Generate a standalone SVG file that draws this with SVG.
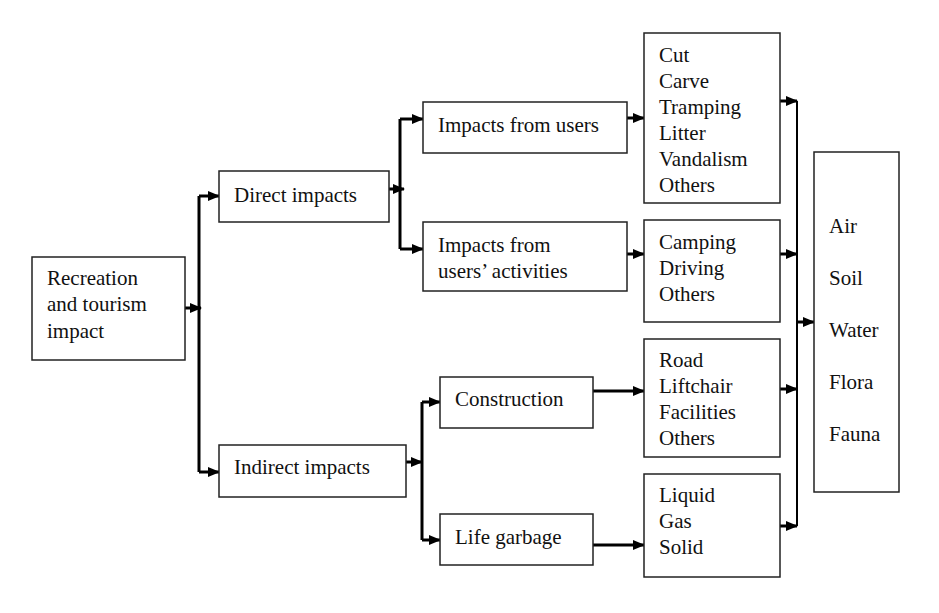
<svg xmlns="http://www.w3.org/2000/svg" width="939" height="613" viewBox="0 0 939 613">
<defs>
<marker id="ah" markerWidth="12" markerHeight="10" refX="11" refY="5" orient="auto" markerUnits="userSpaceOnUse"><path d="M0,0 L12,5 L0,10 Z" fill="#000"/></marker>
</defs>
<style>
rect{fill:#fff;stroke:#222;stroke-width:1.5}
text{font-family:"Liberation Serif",Tinos,"Times New Roman",Times,"DejaVu Serif",serif;font-size:21px;fill:#111}
.c{fill:none;stroke:#000;stroke-width:3}
.t{fill:none;stroke:#000;stroke-width:2}
</style>
<rect x="0" y="0" width="939" height="613" style="stroke:none"/>
<g id="connectors">
<path class="c" d="M185,308 H201" marker-end="url(#ah)"/>
<path class="c" d="M199,196 V472"/>
<path class="c" d="M199,196 H219" marker-end="url(#ah)"/>
<path class="c" d="M199,472 H219" marker-end="url(#ah)"/>
<path class="c" d="M389,189 H404" marker-end="url(#ah)"/>
<path class="c" d="M400,119 V249"/>
<path class="c" d="M400,119 H423" marker-end="url(#ah)"/>
<path class="c" d="M400,249 H423" marker-end="url(#ah)"/>
<path class="c" d="M406,462 H422" marker-end="url(#ah)"/>
<path class="c" d="M422,402 V540"/>
<path class="c" d="M422,402 H440" marker-end="url(#ah)"/>
<path class="c" d="M422,540 H440" marker-end="url(#ah)"/>
<path class="c" d="M627,118 H644" marker-end="url(#ah)"/>
<path class="c" d="M627,254 H644" marker-end="url(#ah)"/>
<path class="c" d="M593,391 H644" marker-end="url(#ah)"/>
<path class="c" d="M593,545 H644" marker-end="url(#ah)"/>
<path class="t" d="M797,101 V526"/>
<path class="c" d="M780,101 H797" marker-end="url(#ah)"/>
<path class="c" d="M780,254 H797" marker-end="url(#ah)"/>
<path class="c" d="M780,389 H797" marker-end="url(#ah)"/>
<path class="c" d="M780,526 H797" marker-end="url(#ah)"/>
<path class="c" d="M797,322 H814" marker-end="url(#ah)"/>
</g>
<g id="root"><rect x="32" y="257" width="153" height="103"/><text x="47" y="285">Recreation</text><text x="47" y="311">and tourism</text><text x="47" y="338">impact</text></g>
<g id="direct"><rect x="219" y="171" width="170" height="51"/><text x="234" y="202">Direct impacts</text></g>
<g id="indirect"><rect x="219" y="445" width="187" height="52"/><text x="234" y="474">Indirect impacts</text></g>
<g id="users"><rect x="423" y="102" width="204" height="51"/><text x="438" y="132">Impacts from users</text></g>
<g id="activities"><rect x="423" y="222" width="204" height="69"/><text x="438" y="252">Impacts from</text><text x="438" y="278">users’ activities</text></g>
<g id="construction"><rect x="440" y="377" width="153" height="51"/><text x="455" y="406">Construction</text></g>
<g id="garbage"><rect x="440" y="514" width="153" height="51"/><text x="455" y="544">Life garbage</text></g>
<g id="userlist"><rect x="644" y="33" width="136" height="170"/><text x="659" y="62">Cut</text><text x="659" y="88">Carve</text><text x="659" y="114">Tramping</text><text x="659" y="140">Litter</text><text x="659" y="166">Vandalism</text><text x="659" y="192">Others</text></g>
<g id="actlist"><rect x="644" y="220" width="136" height="102"/><text x="659" y="249">Camping</text><text x="659" y="275">Driving</text><text x="659" y="301">Others</text></g>
<g id="conlist"><rect x="644" y="339" width="136" height="118"/><text x="659" y="367">Road</text><text x="659" y="393">Liftchair</text><text x="659" y="419">Facilities</text><text x="659" y="445">Others</text></g>
<g id="garblist"><rect x="644" y="474" width="136" height="103"/><text x="659" y="502">Liquid</text><text x="659" y="528">Gas</text><text x="659" y="554">Solid</text></g>
<g id="env"><rect x="814" y="152" width="85" height="340"/><text x="829" y="233">Air</text><text x="829" y="285">Soil</text><text x="829" y="337">Water</text><text x="829" y="389">Flora</text><text x="829" y="441">Fauna</text></g>
</svg>
